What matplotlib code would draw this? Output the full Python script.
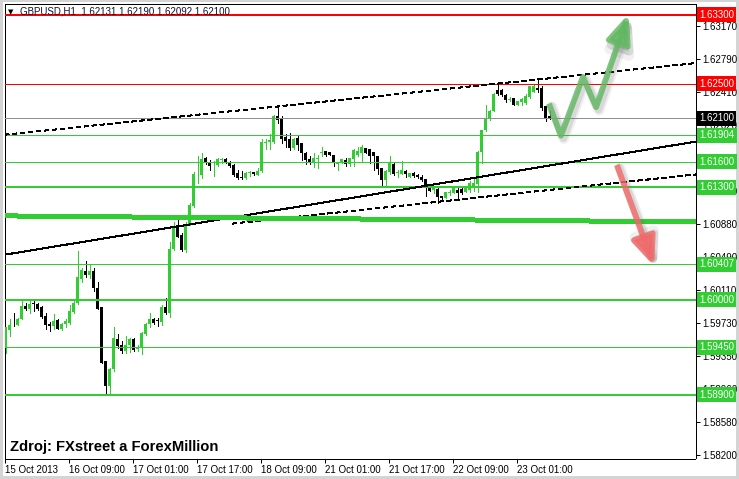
import numpy as np
import matplotlib
matplotlib.use('Agg')
import matplotlib.pyplot as plt
from matplotlib.patches import Rectangle, FancyArrowPatch, ArrowStyle
from matplotlib.path import Path
import matplotlib.transforms as mtrans

plt.rcParams['font.family'] = ['Liberation Sans', 'DejaVu Sans']

# ---------------- data (GBPUSD H1, one value per hourly bar) ----------------
opens = [
    1.5945, 1.5965, 1.5971, 1.5971, 1.5978, 1.5993, 1.5989, 1.5996, 1.5995, 1.5992,
    1.5981, 1.5972, 1.5969, 1.5976, 1.5966, 1.5972, 1.5973, 1.5986, 1.5996, 1.6024,
    1.6033, 1.6029, 1.6033, 1.6014, 1.5991, 1.5929, 1.5900, 1.5920, 1.5954, 1.5947,
    1.5940, 1.5947, 1.5954, 1.5943, 1.5944, 1.5960, 1.5972, 1.5977, 1.5976, 1.5974,
    1.5991, 1.5984, 1.6059, 1.6085, 1.6075, 1.6057, 1.6088, 1.6108, 1.6145, 1.6144,
    1.6164, 1.6159, 1.6158, 1.6156, 1.6162, 1.6163, 1.6160, 1.6156, 1.6147, 1.6142,
    1.6141, 1.6147, 1.6148, 1.6144, 1.6149, 1.6182, 1.6183, 1.6183, 1.6213, 1.6210,
    1.6188, 1.6186, 1.6176, 1.6187, 1.6181, 1.6170, 1.6163, 1.6159, 1.6163, 1.6170,
    1.6172, 1.6171, 1.6168, 1.6157, 1.6159, 1.6162, 1.6157, 1.6163, 1.6168, 1.6170,
    1.6176, 1.6175, 1.6171, 1.6166, 1.6152, 1.6139, 1.6148, 1.6157, 1.6147, 1.6146,
    1.6149, 1.6142, 1.6147, 1.6144, 1.6142, 1.6140, 1.6129, 1.6127, 1.6128, 1.6120,
    1.6118, 1.6123, 1.6124, 1.6127, 1.6128, 1.6125, 1.6127, 1.6131, 1.6134, 1.6171,
    1.6196, 1.6209, 1.6218, 1.6243, 1.6243, 1.6237, 1.6231, 1.6234, 1.6226, 1.6229,
    1.6228, 1.6235, 1.6241, 1.6245, 1.6245, 1.6224, 1.62131]
highs = [
    1.5968, 1.5978, 1.5984, 1.5979, 1.5998, 1.5996, 1.5998, 1.5999, 1.5996, 1.5993,
    1.5984, 1.5974, 1.5983, 1.5977, 1.5973, 1.5977, 1.5994, 1.5999, 1.6056, 1.6037,
    1.6045, 1.6041, 1.6037, 1.6020, 1.5991, 1.5929, 1.5921, 1.5968, 1.5960, 1.5952,
    1.5958, 1.5956, 1.5956, 1.5947, 1.5962, 1.5973, 1.5984, 1.5979, 1.5979, 1.5994,
    1.6002, 1.6067, 1.6090, 1.6095, 1.6077, 1.6090, 1.6112, 1.6148, 1.6166, 1.6170,
    1.6165, 1.6162, 1.6161, 1.6164, 1.6164, 1.6164, 1.6161, 1.6157, 1.6150, 1.6149,
    1.6148, 1.6149, 1.6148, 1.6152, 1.6186, 1.6186, 1.6192, 1.6214, 1.6224, 1.6213,
    1.6192, 1.6193, 1.6187, 1.6190, 1.6181, 1.6171, 1.6166, 1.6170, 1.6168, 1.6177,
    1.6172, 1.6171, 1.6168, 1.6159, 1.6163, 1.6164, 1.6164, 1.6175, 1.6177, 1.6179,
    1.6176, 1.6175, 1.6171, 1.6166, 1.6152, 1.6150, 1.6166, 1.6158, 1.6150, 1.6161,
    1.6150, 1.6147, 1.6148, 1.6145, 1.6144, 1.6140, 1.6132, 1.6132, 1.6129, 1.6120,
    1.6125, 1.6127, 1.6131, 1.6129, 1.6129, 1.6129, 1.6137, 1.6141, 1.6172, 1.6197,
    1.6226, 1.6220, 1.6239, 1.6249, 1.6244, 1.6238, 1.6235, 1.6234, 1.6230, 1.6234,
    1.6238, 1.6248, 1.6249, 1.6254, 1.6247, 1.6224, 1.62190]
lows = [
    1.5938, 1.5958, 1.5969, 1.5970, 1.5977, 1.5988, 1.5984, 1.5987, 1.5988, 1.5979,
    1.5966, 1.5964, 1.5966, 1.5966, 1.5965, 1.5968, 1.5972, 1.5984, 1.5995, 1.6020,
    1.6026, 1.6025, 1.6010, 1.5989, 1.5926, 1.5892, 1.5892, 1.5917, 1.5944, 1.5938,
    1.5938, 1.5939, 1.5941, 1.5941, 1.5937, 1.5959, 1.5968, 1.5972, 1.5969, 1.5971,
    1.5983, 1.5980, 1.6057, 1.6073, 1.6056, 1.6055, 1.6086, 1.6107, 1.6135, 1.6141,
    1.6157, 1.6150, 1.6143, 1.6155, 1.6158, 1.6158, 1.6154, 1.6143, 1.6140, 1.6140,
    1.6140, 1.6143, 1.6144, 1.6144, 1.6148, 1.6175, 1.6175, 1.6181, 1.6205, 1.6181,
    1.6177, 1.6173, 1.6175, 1.6173, 1.6162, 1.6157, 1.6157, 1.6154, 1.6152, 1.6166,
    1.6166, 1.6168, 1.6155, 1.6150, 1.6158, 1.6155, 1.6155, 1.6155, 1.6166, 1.6159,
    1.6170, 1.6158, 1.6150, 1.6146, 1.6133, 1.6131, 1.6146, 1.6144, 1.6142, 1.6146,
    1.6142, 1.6142, 1.6142, 1.6141, 1.6137, 1.6120, 1.6126, 1.6124, 1.6112, 1.6117,
    1.6118, 1.6121, 1.6123, 1.6116, 1.6122, 1.6125, 1.6125, 1.6126, 1.6125, 1.6158,
    1.6195, 1.6208, 1.6218, 1.6237, 1.6236, 1.6229, 1.6230, 1.6226, 1.6226, 1.6226,
    1.6227, 1.6234, 1.6240, 1.6241, 1.6220, 1.6207, 1.62092]
closes = [
    1.5968, 1.5971, 1.5970, 1.5978, 1.5993, 1.5989, 1.5995, 1.5995, 1.5989, 1.5980,
    1.5971, 1.5969, 1.5975, 1.5966, 1.5972, 1.5975, 1.5987, 1.5996, 1.6026, 1.6034,
    1.6029, 1.6033, 1.6014, 1.5989, 1.5927, 1.5900, 1.5920, 1.5956, 1.5946, 1.5940,
    1.5947, 1.5954, 1.5942, 1.5944, 1.5961, 1.5972, 1.5977, 1.5973, 1.5975, 1.5991,
    1.5984, 1.6059, 1.6084, 1.6073, 1.6057, 1.6088, 1.6110, 1.6146, 1.6146, 1.6163,
    1.6158, 1.6155, 1.6160, 1.6163, 1.6163, 1.6159, 1.6155, 1.6144, 1.6141, 1.6141,
    1.6147, 1.6148, 1.6145, 1.6149, 1.6183, 1.6183, 1.6185, 1.6213, 1.6208, 1.6186,
    1.6184, 1.6176, 1.6186, 1.6179, 1.6170, 1.6162, 1.6159, 1.6164, 1.6164, 1.6171,
    1.6168, 1.6168, 1.6159, 1.6159, 1.6163, 1.6157, 1.6164, 1.6173, 1.6172, 1.6177,
    1.6170, 1.6166, 1.6166, 1.6151, 1.6139, 1.6149, 1.6158, 1.6146, 1.6148, 1.6150,
    1.6145, 1.6147, 1.6143, 1.6142, 1.6139, 1.6132, 1.6126, 1.6130, 1.6119, 1.6118,
    1.6125, 1.6125, 1.6129, 1.6123, 1.6123, 1.6129, 1.6135, 1.6135, 1.6171, 1.6197,
    1.6210, 1.6218, 1.6238, 1.6238, 1.6237, 1.6231, 1.6233, 1.6226, 1.6230, 1.6233,
    1.6236, 1.6247, 1.6248, 1.6243, 1.6222, 1.6210, 1.62100]

date_labels = ['15 Oct 2013', '16 Oct 09:00', '17 Oct 01:00', '17 Oct 17:00', '18 Oct 09:00',
               '21 Oct 01:00', '21 Oct 17:00', '22 Oct 09:00', '23 Oct 01:00']
date_label_bars = [0, 16, 32, 48, 64, 80, 96, 112, 128]

y_ticks = [1.63170, 1.62790, 1.62410, 1.62020, 1.61640, 1.61260, 1.60880,
           1.60490, 1.60110, 1.59730, 1.59350, 1.58960, 1.58580, 1.58200]

level_prices = [1.63300, 1.62500, 1.62100, 1.61904, 1.61600, 1.61300,
                1.60407, 1.60000, 1.59450, 1.58900]
level_line_colors = ['#FF0000', '#FF0000', '#8C9096', '#32CD32', '#32CD32', '#32CD32',
                     '#32CD32', '#32CD32', '#32CD32', '#32CD32']
level_box_colors = ['#FF0000', '#FF0000', '#000000', '#32CD32', '#32CD32', '#32CD32',
                    '#32CD32', '#32CD32', '#32CD32', '#32CD32']
level_widths_px = [2, 1, 1, 1, 1, 2, 1, 2, 1, 2]

# trend lines (bar index, price)
upper_dash_bars = [-0.3, 172.45]
upper_dash_prices = [1.6191, 1.6274]
solid_trend_bars = [-0.3, 172.45]
solid_trend_prices = [1.6052, 1.6183]
lower_dash_bars = [56.6, 172.45]
lower_dash_prices = [1.6088, 1.6145]
thick_line_bars = [-0.3, 172.45]
thick_line_prices = [1.6097, 1.6090]

# scenario arrows (bar index, price)
green_arrow_bars = [135.8, 138.8, 144.3, 147.6, 155.7]
green_arrow_prices = [1.6227, 1.6190, 1.6258, 1.6223, 1.6331]
red_arrow_bars = [152.8, 162.1]
red_arrow_prices = [1.6156, 1.6039]

title_text = 'GBPUSD,H1  1.62131 1.62190 1.62092 1.62100'
source_text = 'Zdroj: FXstreet a ForexMillion'

# ---------------- figure ----------------
W, H = 739, 479
DPI = 100
PX = 72.0 / DPI  # points per pixel
fig = plt.figure(figsize=(W / DPI, H / DPI), dpi=DPI, facecolor='white')
L, R, T, B = 4.5, 695.5, 4.0, 458.5
ax = fig.add_axes([L / W, 1 - B / H, (R - L) / W, (B - T) / H])
ax.set_facecolor('white')

# outer window frame
frame_col = '#D4D4D4'
for (x0, y0, w, h) in [(0, 0, 3, H), (0, H - 2, W, 2), (W - 3, 0, 3, H), (0, 0, W, 3)]:
    fig.patches.append(Rectangle((x0 / W, y0 / H), w / W, h / H, transform=fig.transFigure,
                                 facecolor=frame_col, edgecolor='none', zorder=-1))

n = len(opens)
xb = np.arange(n)
o, hi, lo, c = map(np.asarray, (opens, highs, lows, closes))
up = c >= o
cols = np.where(up, '#32CD32', '#000000')

ax.set_xlim(-0.3, 172.45)
ax.set_ylim(1.58159, 1.63425)

# candles
ax.vlines(xb, lo, hi, colors=cols, linewidth=1 * PX, antialiased=False, zorder=4)
body_bottom = np.minimum(o, c)
body_h = np.maximum(np.abs(c - o), 0.00009)
ax.bar(xb, body_h, bottom=body_bottom, width=0.75, color=cols, linewidth=0,
       antialiased=False, zorder=5)

# horizontal levels
for p, lc, wpx in zip(level_prices, level_line_colors, level_widths_px):
    ax.axhline(p, color=lc, linewidth=wpx * PX, antialiased=False, zorder=6)

# trend lines
ax.plot(upper_dash_bars, upper_dash_prices, color='black', linewidth=1 * PX,
        dashes=(4.5, 3), antialiased=False, zorder=6)
ax.plot(solid_trend_bars, solid_trend_prices, color='black', linewidth=1 * PX,
        antialiased=False, zorder=6)
ax.plot(lower_dash_bars, lower_dash_prices, color='black', linewidth=1 * PX,
        dashes=(4.5, 3), antialiased=False, zorder=6)
ax.plot(thick_line_bars, thick_line_prices, color='#32CD32', linewidth=4 * PX,
        antialiased=False, solid_capstyle='butt', zorder=6)


def draw_arrow(bars, prices, color):
    verts = np.column_stack([bars, prices])
    codes = [Path.MOVETO] + [Path.LINETO] * (len(verts) - 1)
    style = ArrowStyle('-|>', head_length=1.7, head_width=0.72)
    for off, extra, a in [(3.0, 3.5, 0.09), (2.5, 1.5, 0.16)]:
        tr = ax.transData + mtrans.ScaledTranslation(off / DPI, -off / DPI, fig.dpi_scale_trans)
        sh = FancyArrowPatch(path=Path(verts, codes), arrowstyle=style, mutation_scale=10,
                             linewidth=4.2 + extra, color='#606060', alpha=a,
                             joinstyle='round', capstyle='round', transform=tr, zorder=8)
        ax.add_patch(sh)
    arr = FancyArrowPatch(path=Path(verts, codes), arrowstyle=style, mutation_scale=10,
                          linewidth=4.2, color=color, alpha=0.82, joinstyle='round',
                          capstyle='butt', transform=ax.transData, zorder=9)
    ax.add_patch(arr)


draw_arrow(green_arrow_bars, green_arrow_prices, '#62B862')
draw_arrow(red_arrow_bars, red_arrow_prices, '#F26A6A')

# axes styling
for s in ax.spines.values():
    s.set_color('black')
    s.set_linewidth(1 * PX)
ax.yaxis.tick_right()
ax.set_yticks(y_ticks)
ax.set_yticklabels([f'{v:.5f}' for v in y_ticks])
ax.set_xticks(np.asarray(date_label_bars) - 0.25)
ax.set_xticklabels(date_labels, ha='left')
ax.tick_params(axis='both', direction='out', length=4 * PX, width=1 * PX, pad=2,
               labelsize=7, colors='black')

# right-hand price boxes
btr = mtrans.blended_transform_factory(ax.transAxes, ax.transData)
xbox = 1.0 + 3.5 / (R - L)
for p, bc in zip(level_prices, level_box_colors):
    ax.text(xbox, p, f'{p:.5f}', transform=btr, ha='left', va='center', fontsize=7,
            color='white', zorder=20, clip_on=False,
            bbox=dict(boxstyle='square,pad=0.25', facecolor=bc, edgecolor='none'))

# title and source text
fig.text(8 / W, 1 - 12.5 / H, '\u25BC', fontsize=5, va='center', ha='left', color='black',
         family=['DejaVu Sans'])
fig.text(20 / W, 1 - 12 / H, title_text, fontsize=7, va='center', ha='left', color='#101030')
fig.text(10 / W, 1 - 447 / H, source_text, fontsize=10.6, fontweight='bold', va='center',
         ha='left', color='black', zorder=30)

fig.savefig('out.png', dpi=DPI, facecolor='white')
